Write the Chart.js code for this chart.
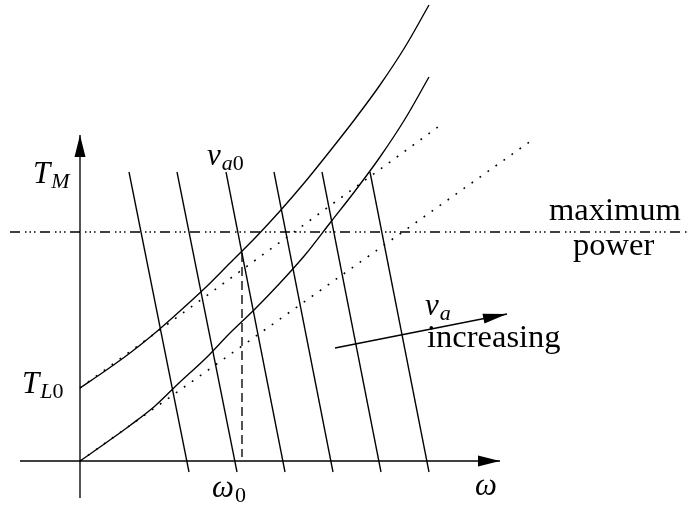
<!DOCTYPE html>
<html>
<head>
<meta charset="utf-8">
<script src="https://cdn.jsdelivr.net/npm/chart.js@4/dist/chart.umd.min.js"></script>
<style>
  html, body { margin: 0; padding: 0; background: #ffffff; overflow: hidden; }
  canvas { display: block; }
</style>
</head>
<body>
<canvas id="c" width="687" height="507"></canvas>
<script>
// ---- data (ω along x, torque T along y; origin of the axes is (0,0)) ----
const omegaGrid   = [0, 25, 50, 75, 100, 125, 150, 175, 200, 225, 250, 275, 300, 325, 349];
const motorTorque = [0, 17.5, 35.5, 55, 79, 102, 128, 152, 178, 206, 238, 270, 304, 342, 384];   // lower curve
const loadTorque  = [73, 90, 108, 128, 150, 173, 198, 223, 250, 279, 310, 342, 376, 414, 456];   // upper curve, starts at T_L0
const tangentLowerOmega = [0, 455];
const tangentLowerT     = [0, 323];
const tangentUpperOmega = [0, 358];
const tangentUpperT     = [73, 334];
const vaTopOmega    = [49, 97, 146, 194, 242, 290];
const vaBottomOmega = [109, 157, 205, 253, 301, 349];
const vaTopT = 289;
const vaBottomT = -11;
const omega0 = 162;
const omega0T = 208;
const maxPowerT = 229;
const maxPowerOmega = [-70, 607];
const xAxisOmega = [-60, 420];
const yAxisT = [-37, 326];
const vaArrowOmega = [255, 427];
const vaArrowT = [113, 147];

// ---- build datasets ----
const pts = (xs, ys) => xs.map((x, i) => ({ x: x, y: ys[i] }));
const base = { showLine: true, pointRadius: 0, borderColor: '#000', borderWidth: 1.35, fill: false };
const datasets = [];
datasets.push(Object.assign({}, base, { data: pts(xAxisOmega, [0, 0]) }));
datasets.push(Object.assign({}, base, { data: pts([0, 0], yAxisT) }));
datasets.push(Object.assign({}, base, { data: pts(omegaGrid, motorTorque), cubicInterpolationMode: 'monotone' }));
datasets.push(Object.assign({}, base, { data: pts(omegaGrid, loadTorque), cubicInterpolationMode: 'monotone' }));
datasets.push(Object.assign({}, base, { data: pts(tangentLowerOmega, tangentLowerT), borderDash: [1.8, 8], borderWidth: 1.6 }));
datasets.push(Object.assign({}, base, { data: pts(tangentUpperOmega, tangentUpperT), borderDash: [1.8, 8], borderWidth: 1.6 }));
vaTopOmega.forEach((w, i) => {
  datasets.push(Object.assign({}, base, { data: [{ x: w, y: vaTopT }, { x: vaBottomOmega[i], y: vaBottomT }] }));
});
datasets.push(Object.assign({}, base, { data: [{ x: omega0, y: omega0T }, { x: omega0, y: 4 }], borderDash: [9, 5] }));
datasets.push(Object.assign({}, base, { data: pts(maxPowerOmega, [maxPowerT, maxPowerT]), borderWidth: 1.5, borderDash: [10, 5, 1.5, 3, 1.5, 3, 1.5, 4.5] }));
datasets.push(Object.assign({}, base, { data: pts(vaArrowOmega, vaArrowT) }));

// arrowheads: tip and the direction it comes from (data units); sizes in pixels
const arrowHeads = [
  { from: [0, yAxisT[0]], tip: [0, yAxisT[1]], len: 22, half: 5.5 },
  { from: [xAxisOmega[0], 0], tip: [xAxisOmega[1], 0], len: 22, half: 5.5 },
  { from: [vaArrowOmega[0], vaArrowT[0]], tip: [vaArrowOmega[1], vaArrowT[1]], len: 24, half: 5 }
];

// labels: anchor in data units, pieces of text
const labels = [
  { at: [-47, 278], parts: [['T', 'i', 0], ['M', 'i', 1]] },
  { at: [-58, 68],  parts: [['T', 'i', 0], ['L', 'i', 1], ['0', 'r', 1]] },
  { at: [127, 296], parts: [['v', 'i', 0], ['a', 'i', 1], ['0', 'r', 1]] },
  { at: [132, -36], parts: [['ω', 'i', 0], ['0', 'r', 1]] },
  { at: [395, -34], parts: [['ω', 'i', 0]] },
  { at: [345, 146], parts: [['v', 'i', 0], ['a', 'i', 1]] },
  { at: [347, 114], parts: [['increasing', 'w', 0]] },
  { at: [469, 241], parts: [['maximum', 'w', 0]] },
  { at: [493, 206], parts: [['power', 'w', 0]] }
];

const drawPlugin = {
  id: 'decor',
  afterDatasetsDraw(chart) {
    const ctx = chart.ctx, xs = chart.scales.x, ys = chart.scales.y;
    ctx.save();
    ctx.fillStyle = '#000';
    arrowHeads.forEach(a => {
      const tx = xs.getPixelForValue(a.tip[0]), ty = ys.getPixelForValue(a.tip[1]);
      const fx = xs.getPixelForValue(a.from[0]), fy = ys.getPixelForValue(a.from[1]);
      const ang = Math.atan2(ty - fy, tx - fx);
      const bx = tx - a.len * Math.cos(ang), by = ty - a.len * Math.sin(ang);
      const nx = -Math.sin(ang) * a.half, ny = Math.cos(ang) * a.half;
      ctx.beginPath();
      ctx.moveTo(tx, ty);
      ctx.lineTo(bx + nx, by + ny);
      ctx.lineTo(bx - nx, by - ny);
      ctx.closePath();
      ctx.fill();
    });
    ctx.textBaseline = 'alphabetic';
    ctx.textAlign = 'left';
    labels.forEach(l => {
      let x = xs.getPixelForValue(l.at[0]);
      const y0 = ys.getPixelForValue(l.at[1]);
      l.parts.forEach(p => {
        const sub = p[2] === 1;
        const size = p[1] === 'w' ? 32.5 : (sub ? 22 : 31);
        const style = p[1] === 'i' ? 'italic ' : '';
        ctx.font = style + size + 'px "Liberation Serif", "DejaVu Serif", serif';
        const y = sub ? y0 + 5 : y0;
        ctx.fillText(p[0], x, y);
        x += ctx.measureText(p[0]).width + (sub ? 0 : 1);
      });
    });
    ctx.restore();
  }
};

new Chart(document.getElementById('c'), {
  type: 'scatter',
  data: { datasets: datasets },
  options: {
    responsive: false,
    animation: false,
    events: [],
    layout: { padding: 0 },
    plugins: { legend: { display: false }, tooltip: { enabled: false } },
    scales: {
      x: { type: 'linear', min: -80, max: 607, display: false },
      y: { type: 'linear', min: -46, max: 461, display: false }
    }
  },
  plugins: [drawPlugin]
});
</script>
</body>
</html>
